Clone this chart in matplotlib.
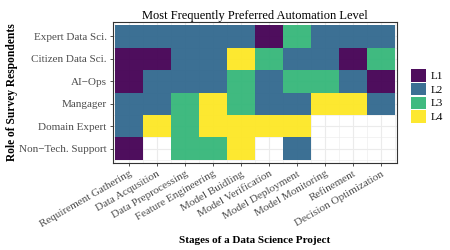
import numpy as np
import matplotlib.pyplot as plt
from matplotlib.colors import ListedColormap
from matplotlib.patches import Patch

plt.rcParams['font.family'] = ['Liberation Serif', 'DejaVu Serif']

stages = ['Requirement Gathering', 'Data Acqusition', 'Data Preprocessing',
          'Feature Engineering', 'Model Buidling', 'Model Verification',
          'Model Deployment', 'Model Monitoring', 'Refinement',
          'Decision Optimization']
roles = ['Expert Data Sci.', 'Citizen Data Sci.', 'AI\u2212Ops', 'Mangager',
         'Domain Expert', 'Non\u2212Tech. Support']
levels = ['L1', 'L2', 'L3', 'L4']

# level index per role (0 = L1 ... 3 = L4), nan = no answer
expert = [1, 1, 1, 1, 1, 0, 2, 1, 1, 1]
citizen = [0, 0, 1, 1, 3, 2, 1, 1, 0, 2]
aiops = [0, 1, 1, 1, 2, 1, 2, 2, 1, 0]
manager = [1, 1, 2, 3, 2, 1, 1, 3, 3, 1]
domain = [1, 3, 2, 3, 3, 3, 3, np.nan, np.nan, np.nan]
nontech = [0, np.nan, 2, 2, 3, np.nan, 1, np.nan, np.nan, np.nan]

colors = ['#440154', '#31688E', '#35B779', '#FDE725']

grid = np.array([expert, citizen, aiops, manager, domain, nontech], dtype=float)

fig = plt.figure(figsize=(4.5, 2.5), dpi=100)
ax = fig.add_axes([0.251, 0.348, 0.631, 0.564])

x = np.arange(len(stages) + 1) - 0.5
y = np.arange(len(roles) + 1) - 0.5
ax.pcolormesh(x, y, np.ma.masked_invalid(grid), cmap=ListedColormap(colors),
              vmin=-0.5, vmax=3.5, alpha=0.95, zorder=2)

ax.set_xlim(-0.58, len(stages) - 0.42)
ax.set_ylim(len(roles) - 0.36, -0.64)
ax.set_xticks(range(len(stages)))
ax.set_xticklabels(stages, rotation=30, ha='right', rotation_mode='anchor',
                   fontsize=8, color='#4D4D4D')
ax.set_yticks(range(len(roles)))
ax.set_yticklabels(roles, fontsize=8, color='#4D4D4D')
ax.set_xticks(x, minor=True)
ax.set_yticks(y, minor=True)
ax.tick_params(which='major', length=2.5, width=0.6, color='#333333', pad=2)
ax.tick_params(which='minor', length=0)
ax.grid(which='major', color='#EBEBEB', lw=0.8, zorder=0)
ax.grid(which='minor', color='#EBEBEB', lw=0.4, zorder=0)
ax.set_axisbelow(True)
for s in ax.spines.values():
    s.set_color('#333333')
    s.set_linewidth(0.8)

ax.set_title('Most Frequently Preferred Automation Level', fontsize=9, pad=2)
ax.set_xlabel('Stages of a Data Science Project', fontsize=8,
              fontweight='bold', labelpad=5)
ax.set_ylabel('Role of Survey Respondents', fontsize=8.3,
              fontweight='bold', labelpad=1)

handles = [Patch(facecolor=c, alpha=0.95) for c in colors]
fig.legend(handles, levels, loc='center left', bbox_to_anchor=(0.9, 0.616),
           frameon=False, fontsize=8, handlelength=1.35, handleheight=1.35,
           handletextpad=0.5, labelspacing=0.1, borderpad=0)

fig.savefig('out.png', dpi=100)
